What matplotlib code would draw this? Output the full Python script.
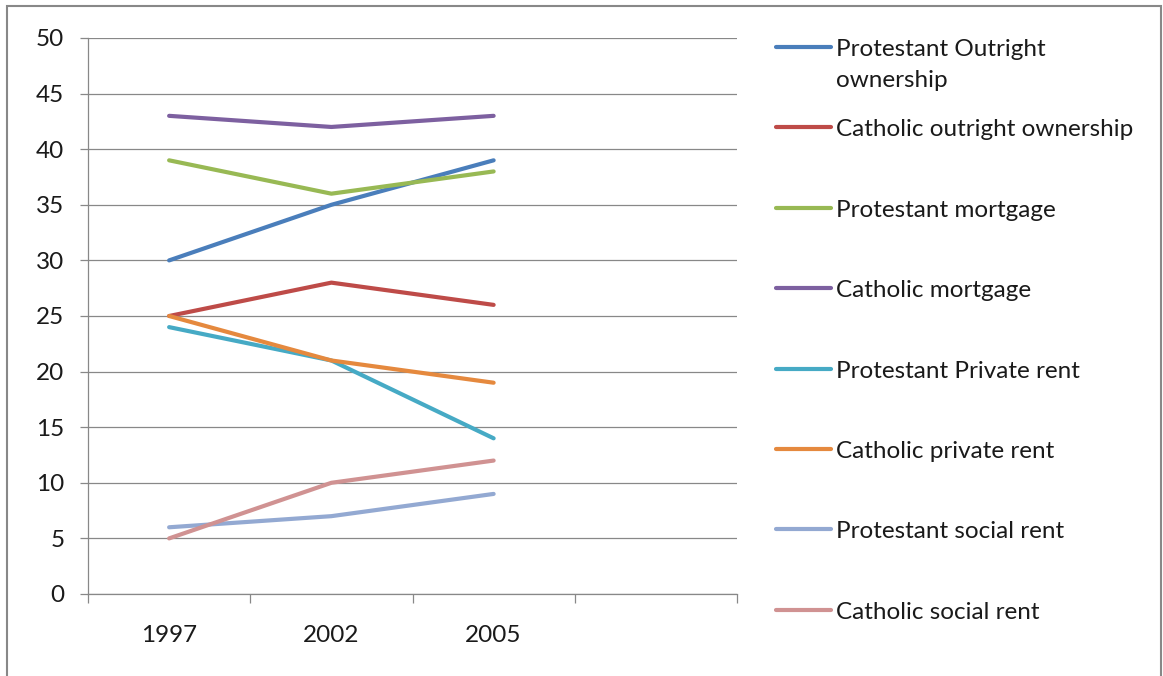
import matplotlib.pyplot as plt
from matplotlib.lines import Line2D
from matplotlib.patches import Rectangle

plt.rcParams['font.family'] = ['Lato', 'DejaVu Sans']

years = ['1997', '2002', '2005']
series_names = ['Protestant Outright\nownership', 'Catholic outright ownership',
                'Protestant mortgage', 'Catholic mortgage',
                'Protestant Private rent', 'Catholic private rent',
                'Protestant social rent', 'Catholic social rent']
prot_outright = [30, 35, 39]
cath_outright = [25, 28, 26]
prot_mortgage = [39, 36, 38]
cath_mortgage = [43, 42, 43]
prot_private = [24, 21, 14]
cath_private = [25, 21, 19]
prot_social = [6, 7, 9]
cath_social = [5, 10, 12]
series_values = [prot_outright, cath_outright, prot_mortgage, cath_mortgage,
                 prot_private, cath_private, prot_social, cath_social]
colors = ['#4A7EBB', '#BE4B48', '#98B954', '#7D60A0',
          '#46AAC5', '#E5893E', '#93A9D2', '#D09292']

W, H = 1163, 676
fig = plt.figure(figsize=(W / 100, H / 100), dpi=100)
ax = fig.add_axes([88 / W, 1 - 594 / H, (737 - 88) / W, (594 - 38) / H])

grey = '#888888'
txt = '#1a1a1a'
fs = 17.5
# 4 category slots, the last one is empty
n_slots = 4
xs = [i + 0.5 for i in range(len(years))]
for vals, col in zip(series_values, colors):
    ax.plot(xs, vals, color=col, lw=3, solid_capstyle='round', solid_joinstyle='round')

ax.set_xlim(0, n_slots)
ax.set_ylim(0, 50)
ax.set_yticks(range(0, 51, 5))
ax.yaxis.grid(True, color=grey, lw=0.9)
ax.set_axisbelow(True)

ax.set_xticks(range(n_slots + 1))
ax.set_xticklabels([])
ax.set_xticks(xs, minor=True)
ax.set_xticklabels(years, minor=True)
ax.tick_params(axis='x', which='major', length=6.5, width=0.9, color=grey, direction='out')
ax.tick_params(axis='x', which='minor', length=0, pad=22, labelsize=fs, labelcolor=txt)
ax.tick_params(axis='y', length=6, width=0.9, color=grey, pad=11, labelsize=fs, labelcolor=txt)

for s in ['top', 'right']:
    ax.spines[s].set_visible(False)
for s in ['left', 'bottom']:
    ax.spines[s].set_color(grey)
    ax.spines[s].set_linewidth(0.9)

# legend drawn by hand in pixel positions
y0 = 47
step = 80.4
for i, (name, col) in enumerate(zip(series_names, colors)):
    yc = y0 + i * step
    fig.add_artist(Line2D([776 / W, 831 / W], [1 - yc / H, 1 - yc / H], color=col, lw=3,
                          solid_capstyle='round'))
    for j, part in enumerate(name.split('\n')):
        fig.text(836 / W, 1 - (yc + 9 + j * 31) / H, part, fontsize=fs,
                 color=txt, va='baseline', ha='left')

# outer chart frame
fig.add_artist(Rectangle((7 / W, -0.05), (1161 - 7) / W, 1.05 - 6 / H,
                         fill=False, edgecolor=grey, lw=1.5, transform=fig.transFigure))

fig.savefig('out.png', dpi=100)
